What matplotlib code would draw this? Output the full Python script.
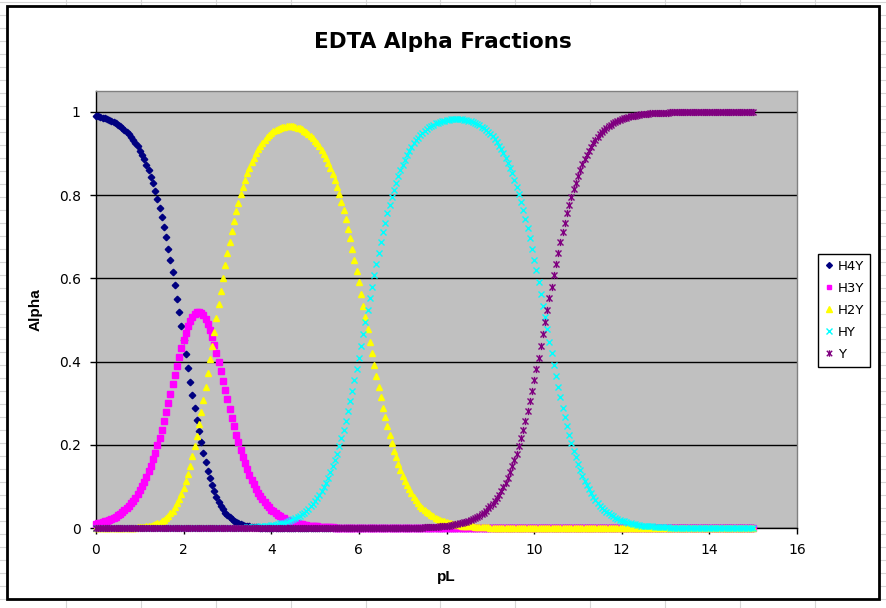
import numpy as np
import matplotlib
matplotlib.use("Agg")
import matplotlib.pyplot as plt
from matplotlib.path import Path
from matplotlib.lines import Line2D
from matplotlib.patches import Rectangle

# pL grid (0 to 15, step 0.05) and alpha fractions
pL = np.round(np.arange(0, 15.0001, 0.05), 2)

H4Y = [
    0.990, 0.989, 0.988, 0.986, 0.984, 0.983, 0.980, 0.978, 0.975, 0.972,
    0.969, 0.965, 0.961, 0.957, 0.952, 0.946, 0.940, 0.933, 0.925, 0.917,
    0.907, 0.897, 0.886, 0.873, 0.859, 0.844, 0.828, 0.810, 0.791, 0.770,
    0.748, 0.724, 0.698, 0.671, 0.643, 0.614, 0.583, 0.551, 0.518, 0.485,
    0.452, 0.418, 0.385, 0.352, 0.320, 0.289, 0.260, 0.232, 0.206, 0.181,
    0.159, 0.138, 0.119, 0.103, 0.088, 0.075, 0.063, 0.053, 0.045, 0.037,
    0.031, 0.026, 0.021, 0.017, 0.014, 0.012, 0.009, 0.008, 0.006, 0.005,
    0.004, 0.003, 0.003, 0.002, 0.002, 0.001, 0.001, 0.001, 0.001, 0.001,
] + [0.0] * 221

H3Y = [
    0.010, 0.011, 0.012, 0.014, 0.016, 0.017, 0.020, 0.022, 0.024, 0.027,
    0.031, 0.034, 0.038, 0.043, 0.048, 0.053, 0.059, 0.066, 0.073, 0.082,
    0.091, 0.101, 0.111, 0.123, 0.136, 0.150, 0.165, 0.181, 0.199, 0.217,
    0.236, 0.257, 0.278, 0.300, 0.322, 0.345, 0.368, 0.390, 0.412, 0.432,
    0.452, 0.469, 0.485, 0.498, 0.508, 0.515, 0.519, 0.519, 0.517, 0.511,
    0.502, 0.490, 0.476, 0.459, 0.440, 0.420, 0.399, 0.377, 0.354, 0.331,
    0.309, 0.287, 0.265, 0.244, 0.224, 0.206, 0.188, 0.171, 0.156, 0.141,
    0.128, 0.116, 0.105, 0.094, 0.085, 0.076, 0.069, 0.062, 0.055, 0.050,
    0.044, 0.040, 0.036, 0.032, 0.028, 0.025, 0.023, 0.020, 0.018, 0.016,
    0.014, 0.013, 0.011, 0.010, 0.009, 0.008, 0.007, 0.006, 0.006, 0.005,
    0.004, 0.004, 0.003, 0.003, 0.003, 0.002, 0.002, 0.002, 0.002, 0.001,
    0.001, 0.001, 0.001, 0.001, 0.001, 0.001, 0.001,
] + [0.0] * 184

H2Y = [0.0] * 17 + [
    0.001, 0.001, 0.002,
    0.002, 0.002, 0.003, 0.004, 0.005, 0.006, 0.007, 0.009, 0.011, 0.013,
    0.016, 0.019, 0.024, 0.029, 0.035, 0.041, 0.050, 0.059, 0.070, 0.082,
    0.097, 0.113, 0.130, 0.150, 0.172, 0.196, 0.221, 0.249, 0.278, 0.308,
    0.339, 0.372, 0.405, 0.438, 0.472, 0.505, 0.538, 0.570, 0.601, 0.631,
    0.660, 0.687, 0.713, 0.738, 0.761, 0.782, 0.802, 0.820, 0.837, 0.852,
    0.866, 0.879, 0.890, 0.901, 0.910, 0.919, 0.926, 0.933, 0.939, 0.944,
    0.949, 0.953, 0.956, 0.959, 0.961, 0.963, 0.964, 0.965, 0.965, 0.965,
    0.965, 0.964, 0.962, 0.960, 0.958, 0.955, 0.951, 0.947, 0.943, 0.937,
    0.931, 0.924, 0.917, 0.908, 0.899, 0.888, 0.877, 0.864, 0.851, 0.836,
    0.820, 0.802, 0.783, 0.763, 0.742, 0.719, 0.696, 0.671, 0.645, 0.618,
    0.591, 0.563, 0.534, 0.506, 0.477, 0.448, 0.420, 0.392, 0.365, 0.339,
    0.314, 0.289, 0.266, 0.244, 0.224, 0.204, 0.186, 0.170, 0.154, 0.140,
    0.126, 0.114, 0.103, 0.093, 0.084, 0.075, 0.067, 0.061, 0.054, 0.049,
    0.044, 0.039, 0.035, 0.031, 0.028, 0.025, 0.022, 0.020, 0.018, 0.016,
    0.014, 0.013, 0.011, 0.010, 0.009, 0.008, 0.007, 0.006, 0.006, 0.005,
    0.004, 0.004, 0.004, 0.003, 0.003, 0.002, 0.002, 0.002, 0.002, 0.002,
    0.001, 0.001, 0.001, 0.001, 0.001, 0.001, 0.001, 0.001, 0.001,
] + [0.0] * 112

HY = [0.0] * 61 + [
    0.001, 0.001, 0.001, 0.001, 0.001, 0.001, 0.001, 0.001, 0.002,
    0.002, 0.002, 0.002, 0.003, 0.003, 0.004, 0.004, 0.005, 0.005, 0.006,
    0.007, 0.007, 0.008, 0.009, 0.011, 0.012, 0.013, 0.015, 0.017, 0.019,
    0.021, 0.024, 0.027, 0.030, 0.033, 0.037, 0.042, 0.046, 0.052, 0.058,
    0.064, 0.072, 0.080, 0.089, 0.099, 0.109, 0.121, 0.134, 0.148, 0.163,
    0.179, 0.197, 0.216, 0.236, 0.257, 0.280, 0.304, 0.329, 0.355, 0.381,
    0.409, 0.437, 0.465, 0.494, 0.523, 0.552, 0.580, 0.608, 0.635, 0.661,
    0.686, 0.711, 0.734, 0.756, 0.776, 0.795, 0.813, 0.830, 0.846, 0.860,
    0.873, 0.885, 0.896, 0.907, 0.916, 0.924, 0.932, 0.938, 0.944, 0.950,
    0.955, 0.959, 0.963, 0.966, 0.969, 0.972, 0.974, 0.976, 0.978, 0.979,
    0.980, 0.981, 0.982, 0.982, 0.982, 0.982, 0.982, 0.982, 0.981, 0.980,
    0.979, 0.977, 0.975, 0.973, 0.970, 0.968, 0.964, 0.961, 0.957, 0.952,
    0.947, 0.941, 0.934, 0.927, 0.919, 0.910, 0.901, 0.890, 0.878, 0.866,
    0.852, 0.837, 0.820, 0.803, 0.784, 0.764, 0.742, 0.720, 0.696, 0.671,
    0.645, 0.619, 0.591, 0.563, 0.534, 0.506, 0.477, 0.448, 0.420, 0.392,
    0.365, 0.339, 0.314, 0.289, 0.266, 0.244, 0.224, 0.204, 0.186, 0.170,
    0.154, 0.140, 0.126, 0.114, 0.103, 0.093, 0.084, 0.075, 0.068, 0.061,
    0.054, 0.049, 0.044, 0.039, 0.035, 0.031, 0.028, 0.025, 0.022, 0.020,
    0.018, 0.016, 0.014, 0.013, 0.011, 0.010, 0.009, 0.008, 0.007, 0.006,
    0.006, 0.005, 0.005, 0.004, 0.004, 0.003, 0.003, 0.003, 0.002, 0.002,
    0.002, 0.002, 0.001, 0.001, 0.001, 0.001, 0.001, 0.001, 0.001, 0.001,
    0.001, 0.001,
] + [0.0] * 29

Y = [0.0] * 141 + [
    0.001, 0.001, 0.001, 0.001, 0.001, 0.001, 0.001, 0.001, 0.001,
    0.002, 0.002, 0.002, 0.002, 0.003, 0.003, 0.003, 0.004, 0.004, 0.005,
    0.005, 0.006, 0.007, 0.008, 0.009, 0.010, 0.011, 0.012, 0.014, 0.015,
    0.017, 0.019, 0.021, 0.024, 0.027, 0.030, 0.033, 0.037, 0.042, 0.047,
    0.052, 0.058, 0.065, 0.072, 0.080, 0.089, 0.099, 0.109, 0.121, 0.134,
    0.148, 0.163, 0.179, 0.197, 0.216, 0.236, 0.257, 0.280, 0.304, 0.329,
    0.355, 0.381, 0.409, 0.437, 0.466, 0.494, 0.523, 0.552, 0.580, 0.608,
    0.635, 0.661, 0.686, 0.711, 0.734, 0.756, 0.776, 0.796, 0.814, 0.830,
    0.846, 0.860, 0.874, 0.886, 0.897, 0.907, 0.916, 0.925, 0.932, 0.939,
    0.946, 0.951, 0.956, 0.961, 0.965, 0.969, 0.972, 0.975, 0.978, 0.980,
    0.982, 0.984, 0.986, 0.987, 0.989, 0.990, 0.991, 0.992, 0.993, 0.994,
    0.994, 0.995, 0.995, 0.996, 0.996, 0.997, 0.997, 0.997, 0.998, 0.998,
    0.998, 0.998, 0.999, 0.999, 0.999, 0.999, 0.999, 0.999, 0.999, 0.999,
    0.999, 0.999,
] + [1.0] * 29

x_ticks = [0, 2, 4, 6, 8, 10, 12, 14, 16]
y_ticks = [0, 0.2, 0.4, 0.6, 0.8, 1.0]
y_tick_labels = ["0", "0.2", "0.4", "0.6", "0.8", "1"]

W, H = 886, 608
fig = plt.figure(figsize=(W / 100, H / 100), dpi=100)


def fx(x):
    return x / W


def fy(y):
    return 1 - y / H


# spreadsheet cells behind the chart
for gx in np.arange(-9, W + 1, 74.9):
    fig.add_artist(Line2D([fx(gx), fx(gx)], [0, 1], color="#d6d6d6", lw=0.8, zorder=1))
for gy in np.arange(2, H + 1, 12.98):
    fig.add_artist(Line2D([0, 1], [fy(gy), fy(gy)], color="#d6d6d6", lw=0.8, zorder=1))

# chart area
fig.add_artist(Rectangle((fx(7), fy(599)), fx(879) - fx(7), fy(6) - fy(599),
                         facecolor="white", edgecolor="black", lw=2, zorder=2))

ax = fig.add_axes([fx(96), fy(528), fx(797) - fx(96), fy(91) - fy(528)])
ax.set_zorder(3)
ax.set_facecolor("#c0c0c0")

# Excel-style star marker: an x with a vertical bar
star = Path([(-1, -1), (1, 1), (-1, 1), (1, -1), (0, -1.2), (0, 1.2)],
            [Path.MOVETO, Path.LINETO, Path.MOVETO, Path.LINETO, Path.MOVETO, Path.LINETO])

ax.plot(pL, H4Y, ls="none", marker="D", ms=3.3, color="#000080", mec="#000080",
        clip_on=False, zorder=3, label="H4Y")
ax.plot(pL, H3Y, ls="none", marker="s", ms=3.8, color="#ff00ff", mec="#ff00ff",
        clip_on=False, zorder=4, label="H3Y")
ax.plot(pL, H2Y, ls="none", marker="^", ms=4.9, color="#ffff00", mec="#ffff00",
        clip_on=False, zorder=5, label="H2Y")
ax.plot(pL, HY, ls="none", marker="x", ms=4.3, mew=1, color="#00ffff",
        clip_on=False, zorder=6, label="HY")
ax.plot(pL, Y, ls="none", marker=star, ms=5.2, mew=1, color="#800080",
        clip_on=False, zorder=7, label="Y")

ax.set_xlim(0, 16)
ax.set_ylim(0, 1.05)
ax.set_xticks(x_ticks)
ax.set_yticks(y_ticks)
ax.set_yticklabels(y_tick_labels)
ax.yaxis.grid(True, color="black", lw=1)
ax.set_axisbelow(True)
ax.tick_params(direction="out", length=4, width=1, colors="black", labelsize=10, pad=7)

for side in ["left", "bottom"]:
    ax.spines[side].set_color("black")
    ax.spines[side].set_linewidth(1)
for side in ["top", "right"]:
    ax.spines[side].set_color("#808080")
    ax.spines[side].set_linewidth(1)

leg = ax.legend(loc="upper left", bbox_to_anchor=(fx(818), fy(254)),
                bbox_transform=fig.transFigure, fontsize=9.5, frameon=True,
                fancybox=False, edgecolor="black", framealpha=1,
                handlelength=0.7, handletextpad=0.35, labelspacing=0.68,
                borderpad=0.45, borderaxespad=0, markerscale=0.9)
leg.get_frame().set_linewidth(1)

fig.text(fx(443), fy(42), "EDTA Alpha Fractions", ha="center", va="center",
         fontsize=15.5, fontweight="bold", family="DejaVu Sans")
fig.text(fx(35.5), fy(310), "Alpha", rotation=90, ha="center", va="center",
         fontsize=11, fontweight="bold", family="Liberation Sans")
fig.text(fx(446), fy(577), "pL", ha="center", va="center",
         fontsize=11, fontweight="bold", family="Liberation Sans")

fig.savefig("out.png", dpi=100)
